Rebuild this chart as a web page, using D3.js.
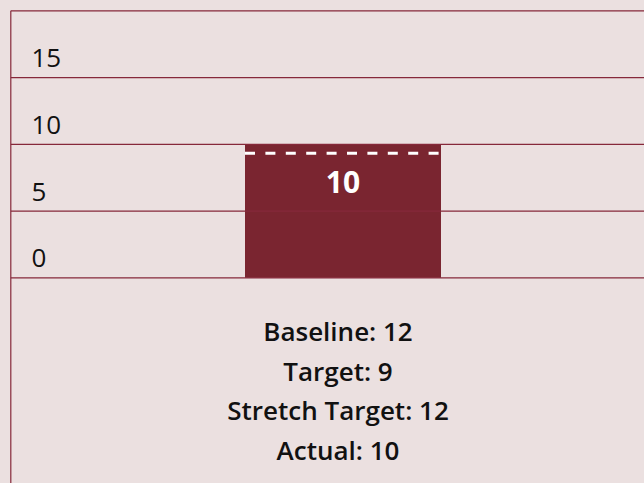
<!DOCTYPE html>
<html>
<head>
<meta charset="utf-8">
<script src="https://cdn.jsdelivr.net/npm/d3@7"></script>
<style>
    html, body { margin: 0; padding: 0; background: #ebe0e0; }
    svg { display: block; font-family: "Open Sans", sans-serif; }
</style>
</head>
<body>
<main></main>
<script>
(function() {
    'use strict';

    var categories = ['Actual'];
    var actual = [10];
    var baseline = 12;
    var target = 9;
    var stretch_target = 12;
    var ticks = [0, 5, 10, 15, 20];
    var tick_labels = ['0', '5', '10', '15', ''];
    var summary = [
        ['Baseline', baseline],
        ['Target', target],
        ['Stretch Target', stretch_target],
        ['Actual', actual[0]]
    ];

    var width = 644, height = 483;
    var left = 10.8, top = 10.8, bottom = 277.8;

    var svg = d3.select('main').append('svg')
        .attr('width', width)
        .attr('height', height);

    svg.append('rect')
        .attr('width', width).attr('height', height)
        .attr('fill', '#ebe0e0');

    var scale_y = d3.scaleLinear()
        .domain([0, 20])
        .range([bottom, top]);
    var scale_x = d3.scaleBand()
        .domain(categories)
        .range([49, 637])
        .padding(0.5);

    // bar first, gridlines over it
    svg.selectAll('rect.bar')
        .data(actual)
        .enter().append('rect')
        .attr('class', 'bar')
        .attr('x', function(d, i) {return scale_x(categories[i]);})
        .attr('width', scale_x.bandwidth())
        .attr('y', function(d) {return scale_y(d);})
        .attr('height', function(d) {return scale_y(0) - scale_y(d);})
        .attr('fill', '#7a2530');

    svg.selectAll('line.grid')
        .data(ticks)
        .enter().append('line')
        .attr('class', 'grid')
        .attr('x1', left).attr('x2', width)
        .attr('y1', function(d) {return scale_y(d);})
        .attr('y2', function(d) {return scale_y(d);})
        .attr('stroke', '#86283a')
        .attr('stroke-width', 1.2);

    svg.append('line')
        .attr('x1', left).attr('x2', left)
        .attr('y1', top).attr('y2', height)
        .attr('stroke', '#86283a')
        .attr('stroke-width', 1.2);

    svg.selectAll('text.tick')
        .data(ticks)
        .enter().append('text')
        .attr('class', 'tick')
        .attr('x', 31.5)
        .attr('y', function(d) {return scale_y(d) - 10.5;})
        .attr('font-size', 26)
        .attr('fill', '#111')
        .text(function(d, i) {return tick_labels[i];});

    // target marker
    svg.append('line')
        .attr('x1', scale_x(categories[0]))
        .attr('x2', scale_x(categories[0]) + scale_x.bandwidth())
        .attr('y1', scale_y(target) - 4.5)
        .attr('y2', scale_y(target) - 4.5)
        .attr('stroke', '#fff')
        .attr('stroke-width', 3)
        .attr('stroke-dasharray', '10,10.4');

    svg.selectAll('text.value')
        .data(actual)
        .enter().append('text')
        .attr('class', 'value')
        .attr('x', function(d, i) {return scale_x(categories[i]) + scale_x.bandwidth() / 2;})
        .attr('y', function(d) {return scale_y(d) + 49;})
        .attr('text-anchor', 'middle')
        .attr('font-size', 30)
        .attr('font-weight', 'bold')
        .attr('fill', '#fff')
        .text(function(d) {return d;});

    svg.selectAll('text.summary')
        .data(summary)
        .enter().append('text')
        .attr('class', 'summary')
        .attr('x', 338)
        .attr('y', function(d, i) {return 341 + i * 39.6;})
        .attr('text-anchor', 'middle')
        .attr('font-size', 26)
        .attr('font-weight', 600)
        .attr('fill', '#111')
        .text(function(d) {return d[0] + ': ' + d[1];});

})();
</script>
</body>
</html>
